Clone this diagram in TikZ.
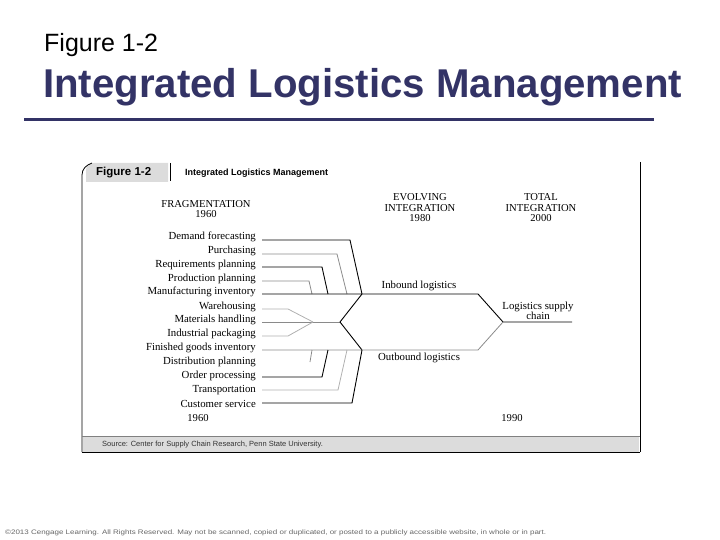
\documentclass[tikz,border=0pt]{standalone}
\usepackage{fontspec}
\setmainfont{Liberation Serif}
\setsansfont{Liberation Sans}
\newfontfamily\arialfont{Liberation Sans}
\usepackage{graphicx}
\definecolor{navy}{HTML}{333366}
\definecolor{tabgray}{HTML}{DCDCDC}
\definecolor{linegray}{HTML}{8A8A8A}
\definecolor{lightline}{HTML}{B0B0B0}
\tikzset{
  lbl/.style={anchor=east, inner sep=0pt, font=\fontsize{10.8}{11}\selectfont},
  hdr/.style={align=center, inner sep=0pt, font=\fontsize{10.6}{10.5}\selectfont},
  mid/.style={align=center, inner sep=0pt, font=\fontsize{10.8}{10.5}\selectfont},
  blk/.style={line width=0.9pt, black},
  gry/.style={line width=0.8pt, linegray},
  lgry/.style={line width=0.8pt, lightline},
}
\begin{document}
\begin{tikzpicture}[x=1pt,y=-1pt]
\useasboundingbox (0,0) rectangle (720,540);
% titles
\node[anchor=base west, inner sep=0pt, font=\arialfont\fontsize{25}{28}\selectfont] (fig) at (44,52) {Figure 1-2};
\node[anchor=base west, inner sep=0pt, text=navy, font=\arialfont\bfseries\fontsize{40.2}{42}\selectfont] (title) at (43,98) {Integrated Logistics Management};
\draw[navy, line width=3pt] (24,120) -- (654,120);
% frame
\fill[tabgray] (86,182) -- (86,170) to[out=90,in=180] (94,163) -- (168,163) -- (168,182) -- cycle;
\draw[line width=0.8pt] (82,452) -- (82,175) to[out=90,in=200] (92,163);
\draw[line width=0.8pt] (170,163) -- (170,181);
\draw[line width=0.8pt] (640,162) -- (640,452);
\fill[tabgray] (83,436) rectangle (639,451.5);
\draw[line width=0.6pt, gray] (82,436) -- (640,436);
\draw[line width=0.8pt] (82,452) -- (640,452);
\node[anchor=base west, inner sep=0pt, font=\arialfont\bfseries\fontsize{11.5}{12}\selectfont] (tabfig) at (96,176) {Figure 1-2};
\node[anchor=base west, inner sep=0pt, font=\arialfont\bfseries\fontsize{9}{10}\selectfont] (tabtitle) at (185,175.5) {Integrated Logistics Management};
\node[anchor=base west, inner sep=0pt, font=\arialfont\fontsize{7.5}{8}\selectfont, text=black!80] (src) at (102,446.5) {Source: Center for Supply Chain Research, Penn State University.};
% headers
\node[hdr] (frag) at (206,209) {FRAGMENTATION\\1960};
\node[hdr] (evol) at (420,208) {EVOLVING\\INTEGRATION\\1980};
\node[hdr] (total) at (541,208) {TOTAL\\INTEGRATION\\2000};
% left labels
\node[lbl] (l1) at (256,237) {Demand forecasting};
\node[lbl] (l2) at (256,251) {Purchasing};
\node[lbl] (l3) at (256,265) {Requirements planning};
\node[lbl] (l4) at (256,279) {Production planning};
\node[lbl] (l5) at (256,292) {Manufacturing inventory};
\node[lbl] (l6) at (256,307) {Warehousing};
\node[lbl] (l7) at (256,320) {Materials handling};
\node[lbl] (l8) at (256,334) {Industrial packaging};
\node[lbl] (l9) at (256,348) {Finished goods inventory};
\node[lbl] (l10) at (256,362) {Distribution planning};
\node[lbl] (l11) at (256,376) {Order processing};
\node[lbl] (l12) at (256,390) {Transportation};
\node[lbl] (l13) at (256,404) {Customer service};
\node[hdr] (y1960) at (198,418) {1960};
\node[hdr] (y1990) at (512,418) {1990};
% middle labels
\node[mid] (inb) at (419,286) {Inbound logistics};
\node[mid] (outb) at (419,358) {Outbound logistics};
\node[mid] (lsc) at (538,311) {Logistics supply\\chain};
% key coordinates
\coordinate (ptop) at (362,294);
\coordinate (pbot) at (362,350);
\coordinate (pleft) at (340,322);
\coordinate (pin) at (313,322);
\coordinate (hexTR) at (478,294);
\coordinate (hexBR) at (478,350);
\coordinate (hexR) at (503,322);
\coordinate (lscend) at (572,322);
% upper feeders
\draw[blk] (262,240) -- (350,240) -- (ptop);
\draw[gry] (262,254) -- (337,254) -- (347,294);
\draw[blk] (262,267) -- (322,267) -- (328,294);
\draw[gry] (262,281) -- (309,281) -- (312,294);
\draw[blk] (262,294) -- (hexTR) -- (hexR) -- (lscend);
% middle
\draw[lgry] (262,309) -- (288,309) -- (pin);
\draw[gry] (262,322) -- (pleft);
\draw[lgry] (262,336) -- (288,336) -- (pin);
\draw[blk] (ptop) -- (pleft) -- (pbot);
% lower feeders
\draw[gry] (262,350) -- (hexBR) -- (hexR);
\draw[gry] (312,350) -- (310,362);
\draw[blk] (262,377) -- (322,377) -- (328,350);
\draw[lgry] (262,390) -- (338,390) -- (347,350);
\draw[blk] (262,403) -- (352,403) -- (pbot);
% footer
\node[anchor=base west, inner sep=0pt, text=black!60, font=\arialfont\fontsize{6.5}{7}\selectfont] (copy) at (5,534) {\resizebox{541pt}{\height}{©2013 Cengage Learning. All Rights Reserved. May not be scanned, copied or duplicated, or posted to a publicly accessible website, in whole or in part.}};
\end{tikzpicture}
\end{document}
